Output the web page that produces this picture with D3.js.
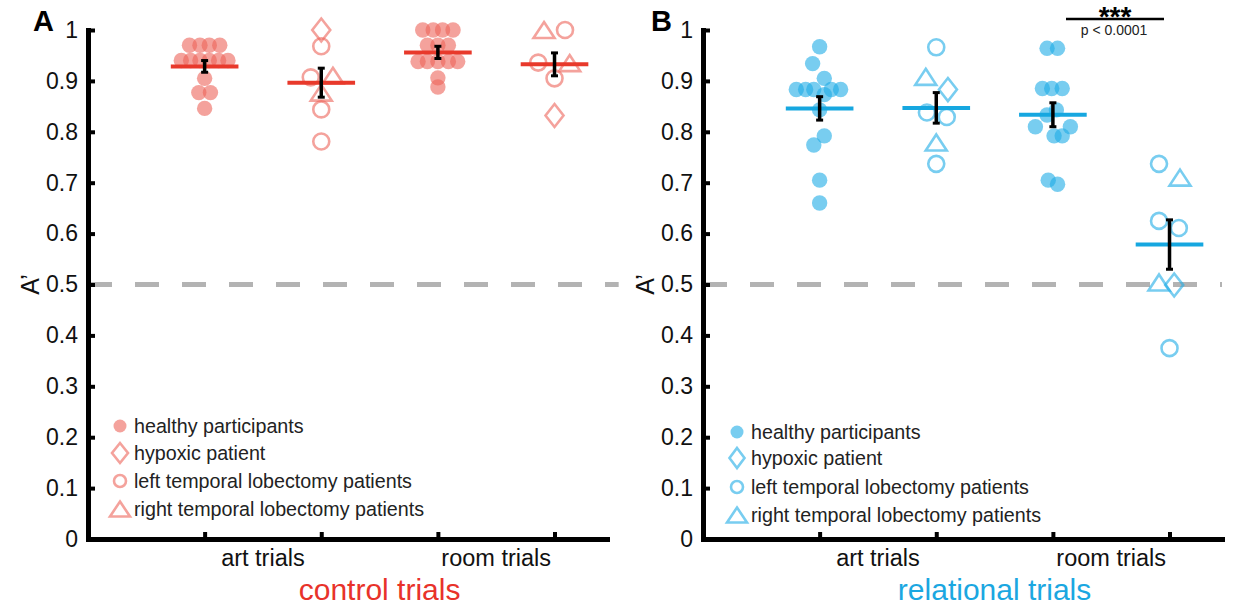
<!DOCTYPE html>
<html>
<head>
<meta charset="utf-8">
<script src="https://cdn.jsdelivr.net/npm/d3@7"></script>
<style>
  body { margin: 0; background: #fff; }
  text { font-family: "Liberation Sans", Arial, sans-serif; }
</style>
</head>
<body>
<svg id="chart" width="1235" height="607"></svg>
<script>
const svg = d3.select("#chart");

// shared
const groupPos = [1, 2, 3, 4];
const conditionLabels = ["art trials", "room trials"];
const conditionPos = [1.5, 3.5];
const yTicks = [0, 0.1, 0.2, 0.3, 0.4, 0.5, 0.6, 0.7, 0.8, 0.9, 1];
const chance = 0.5;
const legendLabels = ["healthy participants", "hypoxic patient", "left temporal lobectomy patients", "right temporal lobectomy patients"];
const legendKinds = ["healthy", "hyp", "left", "right"];

// A: control trials  (dx = horizontal jitter in group units)
const ctrlArtHealthy   = [0.97, 0.97, 0.97, 0.97, 0.94, 0.94, 0.94, 0.94, 0.94, 0.94, 0.905, 0.877, 0.877, 0.846];
const ctrlArtHealthyDx = [-0.13, -0.04, 0.04, 0.13, -0.2, -0.12, -0.04, 0.04, 0.12, 0.2, 0, -0.05, 0.05, 0];
const ctrlArtPatient     = [1.0, 0.968, 0.907, 0.91, 0.877, 0.844, 0.781];
const ctrlArtPatientKind = ["hyp", "left", "left", "right", "right", "left", "left"];
const ctrlArtPatientDx   = [0, 0, -0.09, 0.1, 0, 0, 0];
const ctrlRoomHealthy   = [1, 1, 1, 1, 0.97, 0.97, 0.97, 0.938, 0.938, 0.938, 0.938, 0.938, 0.906, 0.888];
const ctrlRoomHealthyDx = [-0.13, -0.04, 0.04, 0.13, -0.09, 0, 0.09, -0.17, -0.09, 0, 0.09, 0.17, 0, 0];
const ctrlRoomPatient     = [1.0, 1.0, 0.936, 0.905, 0.935, 0.832];
const ctrlRoomPatientKind = ["right", "left", "left", "left", "right", "hyp"];
const ctrlRoomPatientDx   = [-0.09, 0.09, -0.14, 0, 0.13, 0];
const ctrlMean = [0.9285, 0.8965, 0.956, 0.9325];
const ctrlSem  = [0.0115, 0.0285, 0.012, 0.0225];

// B: relational trials
const relArtHealthy   = [0.967, 0.934, 0.905, 0.883, 0.883, 0.883, 0.883, 0.883, 0.873, 0.843, 0.792, 0.774, 0.705, 0.66];
const relArtHealthyDx = [0, -0.06, 0.04, -0.2, -0.12, -0.05, 0.1, 0.18, 0.04, 0, 0.04, -0.05, 0, 0];
const relArtPatient     = [0.966, 0.908, 0.883, 0.838, 0.829, 0.779, 0.737];
const relArtPatientKind = ["left", "right", "hyp", "left", "left", "right", "left"];
const relArtPatientDx   = [0, -0.09, 0.1, -0.08, 0.09, 0, 0];
const relRoomHealthy   = [0.964, 0.964, 0.885, 0.885, 0.885, 0.843, 0.833, 0.81, 0.81, 0.792, 0.792, 0.705, 0.697];
const relRoomHealthyDx = [-0.05, 0.04, -0.09, -0.01, 0.08, 0.03, -0.05, -0.15, 0.15, 0.01, 0.08, -0.04, 0.04];
const relRoomPatient     = [0.737, 0.71, 0.625, 0.611, 0.504, 0.499, 0.375];
const relRoomPatientKind = ["left", "right", "left", "left", "right", "hyp", "left"];
const relRoomPatientDx   = [-0.09, 0.09, -0.09, 0.08, -0.09, 0.04, 0];
const relMean = [0.846, 0.847, 0.8335, 0.5785];
const relSem  = [0.023, 0.030, 0.0235, 0.0485];

const sigText = "***";
const sigP = "p < 0.0001";

function healthy(vals, dx) {
  return vals.map((v, i) => ({ v, dx: dx[i], kind: "healthy" }));
}
function patients(vals, kinds, dx) {
  return vals.map((v, i) => ({ v, dx: dx[i], kind: kinds[i] }));
}

// marker shapes, bbox-centred
function shape(kind, s) {
  if (kind === "hyp") return `M0,${-s.dh}L${s.dw},0L0,${s.dh}L${-s.dw},0Z`;
  if (kind === "right") return `M0,${-s.th / 2}L${s.tw},${s.th / 2}L${-s.tw},${s.th / 2}Z`;
  return null;
}

function drawMarker(sel, kind, cx, cy, col, s) {
  if (kind === "healthy") {
    sel.append("circle").attr("cx", cx).attr("cy", cy).attr("r", s.fr)
      .style("fill", col).style("fill-opacity", 0.6);
  } else if (kind === "left") {
    sel.append("circle").attr("cx", cx).attr("cy", cy).attr("r", s.or)
      .style("fill", "none").style("stroke", col).style("stroke-opacity", 0.6).style("stroke-width", 2.6);
  } else {
    sel.append("path").attr("d", shape(kind, s)).attr("transform", `translate(${cx},${cy})`)
      .style("fill", "none").style("stroke", col).style("stroke-opacity", 0.6).style("stroke-width", 2.6)
      .style("stroke-linejoin", "miter");
  }
}

const dataSize = { fr: 7.7, or: 8, dw: 9, dh: 11.5, tw: 10.5, th: 16 };

function panel(p) {
  const x = d3.scaleLinear().domain([0, 4.45]).range(p.range);
  const y = d3.scaleLinear().domain([0, 1]).range([539, 30]);
  const g = svg.append("g");

  // chance line
  g.append("line")
    .attr("x1", x(0)).attr("x2", x(p.dashEnd))
    .attr("y1", y(chance)).attr("y2", y(chance))
    .style("stroke", "#b3b3b3").style("stroke-width", 5).style("stroke-dasharray", "24,23");

  // y axis
  const ya = g.append("g").attr("transform", `translate(${x(0)},0)`)
    .call(d3.axisLeft(y).tickValues(yTicks).tickSizeInner(-7).tickSizeOuter(0).tickPadding(10)
      .tickFormat(d => +d.toFixed(1)));
  ya.select(".domain").style("stroke", "#000").style("stroke-width", 5).style("stroke-linecap", "square");
  ya.selectAll(".tick line").style("stroke", "#000").style("stroke-width", 4);
  ya.selectAll(".tick text").style("font-size", "23px").style("fill", "#111")
    .style("font-family", "'Liberation Sans', Arial, sans-serif");

  // x axis
  const xa = g.append("g").attr("transform", `translate(0,${y(0)})`)
    .call(d3.axisBottom(x).tickValues(groupPos).tickSizeInner(-7).tickSizeOuter(0).tickFormat(""));
  xa.select(".domain").style("stroke", "#000").style("stroke-width", 5).style("stroke-linecap", "square");
  xa.selectAll(".tick line").style("stroke", "#000").style("stroke-width", 4);

  g.selectAll(".cond").data(conditionLabels).enter().append("text")
    .attr("x", (d, i) => x(conditionPos[i])).attr("y", 566)
    .attr("text-anchor", "middle").style("font-size", "23.5px").style("fill", "#111")
    .text(d => d);

  g.append("text").attr("x", x(2.5)).attr("y", 600).attr("text-anchor", "middle")
    .style("font-size", "30px").style("fill", p.titleColor).text(p.title);

  // y title
  g.append("text").attr("transform", `translate(${x(0) - 58},${y(chance)}) rotate(-90)`)
    .attr("text-anchor", "middle").attr("dy", "0.35em")
    .style("font-size", "25px").style("fill", "#111").text("A\u2019");

  // panel letter
  g.append("text").attr("x", p.letterX).attr("y", 31)
    .style("font-size", "29px").style("font-weight", "bold").style("fill", "#000").text(p.letter);

  // points
  p.groups.forEach((pts, gi) => {
    const gg = g.append("g");
    pts.forEach(d => drawMarker(gg, d.kind, x(groupPos[gi] + d.dx), y(d.v), p.markColor, dataSize));
  });

  // means
  g.selectAll(".mean").data(p.means).enter().append("line")
    .attr("x1", (d, i) => x(groupPos[i] - 0.29)).attr("x2", (d, i) => x(groupPos[i] + 0.29))
    .attr("y1", d => y(d)).attr("y2", d => y(d))
    .style("stroke", p.lineColor).style("stroke-width", 4);

  // sem bars
  p.means.forEach((m, i) => {
    const cx = x(groupPos[i]);
    const top = y(m + p.sems[i]), bot = y(m - p.sems[i]);
    g.append("line").attr("x1", cx).attr("x2", cx).attr("y1", top).attr("y2", bot)
      .style("stroke", "#000").style("stroke-width", 3.5);
    [top, bot].forEach(yy => g.append("line")
      .attr("x1", cx - 3.5).attr("x2", cx + 3.5).attr("y1", yy).attr("y2", yy)
      .style("stroke", "#000").style("stroke-width", 3));
  });

  // legend
  const lg = g.append("g");
  legendLabels.forEach((lab, i) => {
    const ly = p.legendY[i];
    drawMarker(lg, legendKinds[i], p.legendX, ly, p.markColor, p.legendSize);
    lg.append("text").attr("x", p.legendX + 14).attr("y", ly).attr("dy", "0.35em")
      .style("font-size", "19.7px").style("fill", "#222").text(lab);
  });

  return { x, y, g };
}

panel({
  range: [88, 607], dashEnd: 4.55, letter: "A", letterX: 33,
  title: "control trials", titleColor: "#e8322a",
  markColor: "#ed645a", lineColor: "#e8392b",
  groups: [
    healthy(ctrlArtHealthy, ctrlArtHealthyDx),
    patients(ctrlArtPatient, ctrlArtPatientKind, ctrlArtPatientDx),
    healthy(ctrlRoomHealthy, ctrlRoomHealthyDx),
    patients(ctrlRoomPatient, ctrlRoomPatientKind, ctrlRoomPatientDx)
  ],
  means: ctrlMean, sems: ctrlSem,
  legendX: 120, legendY: [426, 453, 481, 509],
  legendSize: { fr: 6.5, or: 6, dw: 8, dh: 10, tw: 10, th: 15 }
});

const pb = panel({
  range: [703, 1222], dashEnd: 4.45, letter: "B", letterX: 651,
  title: "relational trials", titleColor: "#1ba7e1",
  markColor: "#1eace6", lineColor: "#16a7e0",
  groups: [
    healthy(relArtHealthy, relArtHealthyDx),
    patients(relArtPatient, relArtPatientKind, relArtPatientDx),
    healthy(relRoomHealthy, relRoomHealthyDx),
    patients(relRoomPatient, relRoomPatientKind, relRoomPatientDx)
  ],
  means: relMean, sems: relSem,
  legendX: 737, legendY: [432, 458, 487, 515],
  legendSize: { fr: 6.5, or: 6, dw: 7.5, dh: 10, tw: 10, th: 15 }
});

// significance marker between room groups of B
pb.g.append("line").attr("x1", 1066).attr("x2", 1164).attr("y1", 19).attr("y2", 19)
  .style("stroke", "#000").style("stroke-width", 2.5);
pb.g.append("text").attr("x", 1115).attr("y", 25.5).attr("text-anchor", "middle")
  .style("font-size", "28px").style("font-weight", "bold").text(sigText);
pb.g.append("text").attr("x", 1114).attr("y", 34.5).attr("text-anchor", "middle")
  .style("font-size", "14px").style("fill", "#222").text(sigP);
</script>
</body>
</html>
